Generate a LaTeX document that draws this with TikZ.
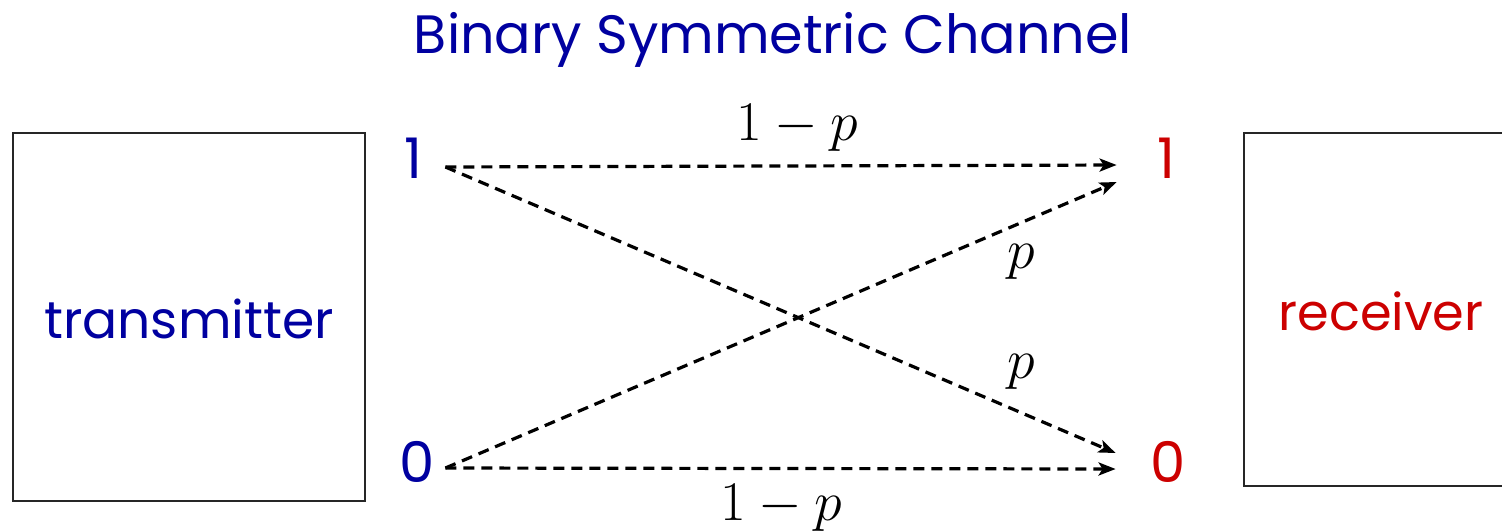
\RequirePackage{fix-cm}
\documentclass[tikz,border=0pt]{standalone}
\usepackage{fontspec}
\setmainfont{Poppins}
\usetikzlibrary{arrows.meta}
\definecolor{tblue}{RGB}{0,0,160}
\definecolor{tred}{RGB}{204,0,0}
\tikzset{
  box/.style={draw=black!85,line width=1pt},
  sym/.style={inner sep=0pt,minimum height=20pt,font=\fontsize{28}{32}\selectfont},
  arr/.style={dashed,dash pattern=on 5.5pt off 3.5pt,line width=1.6pt,-{Stealth[length=8.5pt,width=6.5pt,inset=2pt]}},
  lab/.style={inner sep=0pt,font=\fontsize{28}{32}\selectfont},
}
\begin{document}
\begin{tikzpicture}[x=0.5pt,y=-0.5pt]
\useasboundingbox (0,0) rectangle (1502,531);
\clip (0,0) rectangle (1502,531);
\node[text=tblue,font=\fontsize{27}{32}\selectfont] (title) at (773,40) {Binary Symmetric Channel};
\draw[box] (13,133) rectangle (365,501);
\node[text=tblue,font=\fontsize{26}{32}\selectfont] (tx) at (189,319) {transmitter};
\draw[box] (1244,133) rectangle (1540,486);
\node[text=tred,font=\fontsize{25.5}{32}\selectfont] (rx) at (1381,311) {receiver};
\node[sym,text=tblue,minimum width=32pt] (s1) at (413,158) {1};
\node[sym,text=tblue,minimum width=28pt] (s0) at (417,462) {0};
\node[sym,text=tred,minimum width=49pt] (r1) at (1166,158) {1};
\node[sym,text=tred,minimum width=52pt] (r0) at (1168,462) {0};
\draw[arr] ([yshift=-4.5pt]s1.east) -- ([yshift=-3.5pt]r1.west);
\draw[arr] ([yshift=-4.5pt]s1.east) -- ([yshift=4.5pt]r0.west);
\draw[arr] ([yshift=-3pt]s0.east) -- ([yshift=-12pt]r1.west);
\draw[arr] ([yshift=-3pt]s0.east) -- ([yshift=-3.5pt]r0.west);
\node[lab] (l1) at (797,128) {$1-p$};
\node[lab] (l2) at (781,508) {$1-p$};
\node[lab] (l3) at (1021,262) {$p$};
\node[lab] (l4) at (1021,372) {$p$};
\end{tikzpicture}
\end{document}
